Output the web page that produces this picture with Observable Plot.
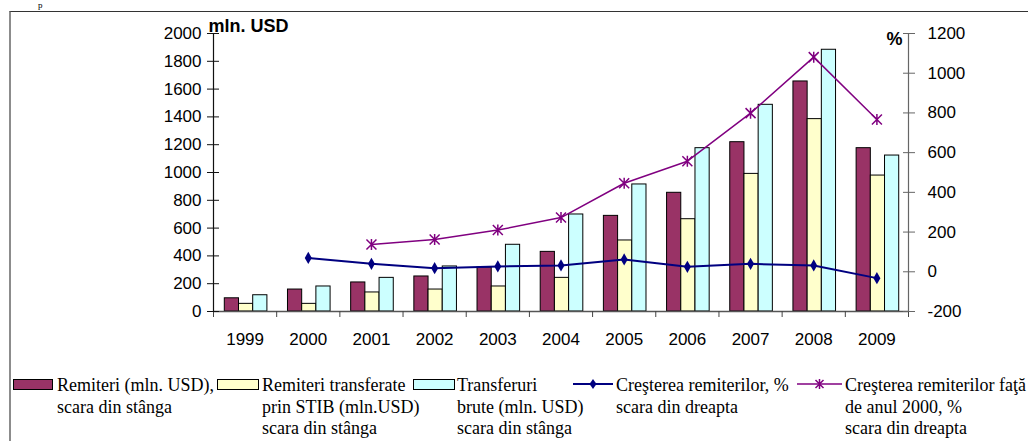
<!DOCTYPE html>
<html>
<head>
<meta charset="utf-8">
<script src="https://cdn.jsdelivr.net/npm/d3@7"></script>
<script src="https://cdn.jsdelivr.net/npm/@observablehq/plot@0.6"></script>
<style>
html, body { margin: 0; padding: 0; background: #fff; overflow: hidden; }
#wrap { position: relative; width: 1028px; height: 441px; overflow: hidden; background: #fff; }
#frame { position: absolute; left: 9px; top: 11px; width: 1040px; height: 440px; border-left: 2px solid #8c8c8c; border-top: 1px solid #333; box-sizing: border-box; }
#chart { position: absolute; left: 0; top: 0; }
#legend { position: absolute; left: 0; top: 365px; width: 1028px; height: 76px; font-family: "Liberation Serif", "Times New Roman", serif; font-size: 18px; line-height: 21.5px; color: #000; }
.txt { position: absolute; top: 10.2px; white-space: nowrap; }
.sw { position: absolute; top: 14px; height: 11px; box-sizing: border-box; border: 1px solid #000; }
.lsw { position: absolute; top: 12px; }
#topchar { position: absolute; left: 38px; top: 0px; font-family: "Liberation Serif", serif; font-size: 9px; line-height: 10px; }
</style>
</head>
<body>
<div id="wrap">
  <div id="topchar">p</div>
  <div id="frame"></div>
  <div id="chart"></div>
  <div id="legend"></div>
</div>
<script>
// ---- data ----
const years = [1999, 2000, 2001, 2002, 2003, 2004, 2005, 2006, 2007, 2008, 2009];
const remiteri = [95, 158, 209, 252, 317, 429, 688, 854, 1218, 1655, 1175];
const remiteriSTIB = [55, 55, 137, 158, 180, 242, 511, 664, 990, 1384, 978];
const transferuriBrute = [117, 180, 242, 324, 480, 698, 914, 1175, 1487, 1883, 1122];
const growthYears = [2000, 2001, 2002, 2003, 2004, 2005, 2006, 2007, 2008, 2009];
const growth = [70, 40, 18, 27, 32, 62, 25, 40, 32, -32];
const growth2000Years = [2001, 2002, 2003, 2004, 2005, 2006, 2007, 2008, 2009];
const growth2000 = [137, 163, 210, 273, 446, 557, 799, 1081, 767];
const leftTicks = [0, 200, 400, 600, 800, 1000, 1200, 1400, 1600, 1800, 2000];
const rightTicks = [-200, 0, 200, 400, 600, 800, 1000, 1200];
const leftTitle = "mln. USD";
const rightTitle = "%";
const legendLabels = [
  ["Remiteri (mln. USD),", "scara din stânga"],
  ["Remiteri transferate", "prin STIB (mln.USD)", "scara din stânga"],
  ["Transferuri", "brute (mln. USD)", "scara din stânga"],
  ["Creşterea remiterilor, %", "scara din dreapta"],
  ["Creşterea remiterilor faţă", "de anul 2000, %", "scara din dreapta"]
];

// ---- styles / layout ----
const colors = { rem: "#993366", stib: "#FFFFCC", brute: "#CCFFFF", growth: "#000080", growth2000: "#800080" };
const W = 1028, H = 365, mL = 213, mR = 120, mT = 33, mB = 54;
const leftMin = leftTicks[0], leftMax = leftTicks[leftTicks.length - 1];
const rightMin = rightTicks[0], rightMax = rightTicks[rightTicks.length - 1];
const toLeft = v => (v - rightMin) * (leftMax - leftMin) / (rightMax - rightMin) + leftMin;
const fromLeft = v => (v - leftMin) * (rightMax - rightMin) / (leftMax - leftMin) + rightMin;

const bw = (W - mL - mR) / years.length;
const barW = 14.2, gap0 = 11.3;
const boundaries = years.map(y => y - 0.5).concat([years[years.length - 1] + 0.5]);

function bars(values, i, fill) {
  return Plot.rect(years, {
    x1: d => d - 0.5, x2: d => d + 0.5,
    y1: 0, y2: (d, j) => values[j],
    insetLeft: gap0 + i * barW,
    insetRight: bw - gap0 - (i + 1) * barW,
    fill, stroke: "#000", strokeWidth: 1
  });
}

const starSymbol = {
  draw(ctx, size) {
    const r = Math.sqrt(size / Math.PI);
    ctx.moveTo(-r, -r); ctx.lineTo(r, r);
    ctx.moveTo(-r, r); ctx.lineTo(r, -r);
    ctx.moveTo(0, -r * 1.1); ctx.lineTo(0, r * 1.1);
  }
};

const chart = Plot.plot({
  width: W, height: H,
  marginLeft: mL, marginRight: mR, marginTop: mT, marginBottom: mB,
  style: { fontFamily: "'Liberation Sans', Arial, sans-serif", fontSize: "17px", color: "#000", background: "transparent", overflow: "visible" },
  x: { type: "linear", domain: [boundaries[0], boundaries[boundaries.length - 1]], axis: null },
  y: { domain: [leftMin, leftMax], axis: null },
  marks: [
    bars(remiteri, 0, colors.rem),
    bars(remiteriSTIB, 1, colors.stib),
    bars(transferuriBrute, 2, colors.brute),
    Plot.ruleY([0], { stroke: "#555", strokeWidth: 1.5 }),
    Plot.axisX({ ticks: boundaries, tickSize: 6, tickFormat: () => "", stroke: "#444", label: null }),
    Plot.axisX({ ticks: years, tickSize: 0, tickPadding: 21, tickFormat: d => String(d), label: null, fontSize: 17 }),
    Plot.ruleX([boundaries[0]], { stroke: "#111", strokeWidth: 1.2 }),
    Plot.ruleX([boundaries[boundaries.length - 1]], { stroke: "#666", strokeWidth: 1.2 }),
    Plot.axisY({ anchor: "left", ticks: leftTicks, tickSize: 12, dx: 6, tickPadding: 6, stroke: "#111", label: null, tickFormat: d => String(d), fontSize: 17 }),
    Plot.axisY({ anchor: "right", ticks: rightTicks.map(toLeft), tickSize: 12, dx: -6, tickPadding: 13, stroke: "#666", label: null, tickFormat: d => String(Math.round(fromLeft(d))), fontSize: 17 }),
    Plot.line(growthYears, { x: d => d, y: (d, i) => toLeft(growth[i]), stroke: colors.growth, strokeWidth: 2 }),
    Plot.dot(growthYears, { x: d => d, y: (d, i) => toLeft(growth[i]), symbol: "diamond", r: 3.7, fill: colors.growth }),
    Plot.line(growth2000Years, { x: d => d, y: (d, i) => toLeft(growth2000[i]), stroke: colors.growth2000, strokeWidth: 1.5 }),
    Plot.dot(growth2000Years, { x: d => d, y: (d, i) => toLeft(growth2000[i]), symbol: starSymbol, r: 5, stroke: colors.growth2000, strokeWidth: 1.5, fill: "none" }),
    Plot.text([leftTitle], { frameAnchor: "top-left", text: d => d, textAnchor: "start", lineAnchor: "bottom", dx: -5, dy: -2, fontWeight: "bold", fontSize: 18 }),
    Plot.text([rightTitle], { frameAnchor: "top-right", text: d => d, textAnchor: "end", lineAnchor: "bottom", dx: -6, dy: 11, fontWeight: "bold", fontSize: 18 })
  ]
});
document.getElementById("chart").appendChild(chart);

// ---- legend ----
const legend = document.getElementById("legend");
const swX = [13, 217, 413, 573, 797];
const swW = [40, 42, 42, 40, 45];
const txtX = [57, 262, 457, 616, 845];
const swFill = [colors.rem, colors.stib, colors.brute];
legendLabels.forEach((lines, i) => {
  if (i < 3) {
    const s = document.createElement("div");
    s.className = "sw";
    s.style.left = swX[i] + "px";
    s.style.width = swW[i] + "px";
    s.style.background = swFill[i];
    legend.appendChild(s);
  } else {
    const ns = "http://www.w3.org/2000/svg";
    const svg = document.createElementNS(ns, "svg");
    svg.setAttribute("class", "lsw");
    svg.setAttribute("width", swW[i]);
    svg.setAttribute("height", 14);
    svg.style.left = swX[i] + "px";
    const c = i === 3 ? colors.growth : colors.growth2000;
    const ln = document.createElementNS(ns, "line");
    ln.setAttribute("x1", 0); ln.setAttribute("x2", swW[i]);
    ln.setAttribute("y1", 7); ln.setAttribute("y2", 7);
    ln.setAttribute("stroke", c); ln.setAttribute("stroke-width", i === 3 ? 2 : 1.5);
    svg.appendChild(ln);
    const m = swW[i] / 2;
    const p = document.createElementNS(ns, "path");
    if (i === 3) {
      p.setAttribute("d", `M${m},2 L${m + 3.5},7 L${m},12 L${m - 3.5},7 Z`);
      p.setAttribute("fill", c);
    } else {
      p.setAttribute("d", `M${m - 4},3 L${m + 4},11 M${m - 4},11 L${m + 4},3 M${m},2 L${m},12`);
      p.setAttribute("stroke", c); p.setAttribute("stroke-width", 1.5); p.setAttribute("fill", "none");
    }
    svg.appendChild(p);
    legend.appendChild(svg);
  }
  const t = document.createElement("div");
  t.className = "txt";
  t.style.left = txtX[i] + "px";
  t.innerHTML = lines.map(l => l.replace(/&/g, "&amp;").replace(/</g, "&lt;")).join("<br>");
  legend.appendChild(t);
});
</script>
</body>
</html>
